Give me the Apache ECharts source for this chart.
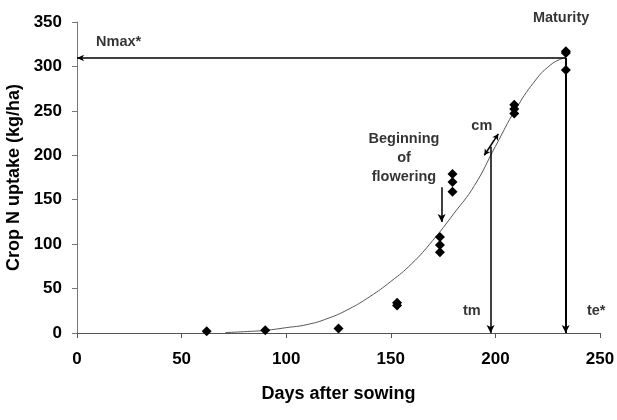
<!DOCTYPE html>
<html lang="en">
<head>
    <meta charset="UTF-8">
    <title>Crop N uptake</title>
    <script src="https://cdn.jsdelivr.net/npm/echarts@6.0.0/dist/echarts.min.js"></script>
    <style>
        body { margin: 0; background: #fff; }
        #chart { width: 617px; height: 420px; }
    </style>
</head>
<body>
    <div id="chart"></div>
    <script>
        // observed crop N uptake (diamonds)
        const obsDays = [62, 90, 125, 153, 153, 173.5, 173.5, 173.5, 179.5, 179.5, 179.5, 209, 209, 209, 233.7, 233.7, 233.7];
        const obsUptake = [2, 3, 5, 31, 34, 91, 99, 108, 159, 170, 179, 247, 252, 257, 296, 315, 317];

        // fitted curve
        const fitDays = [71, 80, 90, 100, 110, 120, 130, 140, 150, 160, 170, 180, 190, 200, 210, 220, 226, 230, 233.6];
        const fitUptake = [0.5, 1.5, 3, 6, 9.5, 16.5, 27, 41, 58, 78, 104, 134, 166, 210, 253, 287, 301, 307, 310];

        // annotation values
        const nmax = 309.5;       // Nmax*
        const teDay = 233.6;      // te*
        const tmDay = 197.7;      // tm
        const tmTop = 209.6;
        const flowerArrow = [[174.3, 164], [174.3, 125]];
        const cmArrow = [[194.7, 200], [201.4, 224]];

        // text annotations (day, uptake, text)
        const noteText = ['Nmax*', 'Maturity', 'Beginning\nof\nflowering', 'cm', 'tm', 'te*'];
        const noteDay = [19.9, 231.4, 156.3, 193.5, 188.7, 248.2];
        const noteUptake = [327.5, 354.6, 197.4, 233, 24.6, 24.6];

        const xTicks = [0, 50, 100, 150, 200, 250];
        const yTicks = [0, 50, 100, 150, 200, 250, 300, 350];

        const chart = echarts.init(document.getElementById('chart'));

        const fontFamily = 'Liberation Sans, Arial, sans-serif';
        const tickFont = { color: '#000', fontWeight: 'bold', fontSize: 17, fontFamily: fontFamily };
        const nameFont = { color: '#000', fontWeight: 'bold', fontSize: 18, fontFamily: fontFamily };
        const arrowStyle = { color: '#000', width: 1.5, type: 'solid' };

        const option = {
            animation: false,
            backgroundColor: '#fff',
            grid: { left: 77, right: 17, top: 22, bottom: 87, containLabel: false, outerBoundsMode: 'none' },
            xAxis: {
                type: 'value',
                min: xTicks[0], max: xTicks[xTicks.length - 1], interval: 50,
                name: 'Days after sowing',
                nameLocation: 'middle',
                nameGap: 52,
                nameTextStyle: nameFont,
                axisLine: { lineStyle: { color: '#555', width: 1 } },
                axisTick: { show: true, length: 5, lineStyle: { color: '#555' } },
                axisLabel: Object.assign({ margin: 18 }, tickFont),
                splitLine: { show: false }
            },
            yAxis: {
                type: 'value',
                min: yTicks[0], max: yTicks[yTicks.length - 1], interval: 50,
                name: 'Crop N uptake (kg/ha)',
                nameLocation: 'middle',
                nameGap: 54,
                nameTextStyle: nameFont,
                axisLine: { show: true, lineStyle: { color: '#777', width: 1 } },
                axisTick: { show: true, length: 5, lineStyle: { color: '#777' } },
                axisLabel: Object.assign({ margin: 15 }, tickFont),
                splitLine: { show: false }
            },
            series: [
                {
                    name: 'fit',
                    type: 'line',
                    smooth: true,
                    symbol: 'none',
                    data: fitDays.map((d, i) => [d, fitUptake[i]]),
                    lineStyle: { color: '#555', width: 1 },
                    z: 2,
                    markLine: {
                        silent: true,
                        animation: false,
                        label: { show: false },
                        symbolSize: [7, 9],
                        data: [
                            [{ coord: [teDay, nmax], symbol: 'none' }, { coord: [0, nmax], symbol: 'arrow', symbolSize: [5, 7] }],
                            [{ coord: [teDay, nmax], symbol: 'none', lineStyle: { color: '#000', width: 2 } }, { coord: [teDay, 0], symbol: 'arrow', symbolSize: [6, 8] }],
                            [{ coord: [tmDay, tmTop], symbol: 'none' }, { coord: [tmDay, 0], symbol: 'arrow', symbolSize: [6, 8] }],
                            [{ coord: flowerArrow[0], symbol: 'none' }, { coord: flowerArrow[1], symbol: 'arrow', symbolSize: [6, 8] }],
                            [{ coord: cmArrow[0], symbol: 'arrow', symbolSize: [5, 6] }, { coord: cmArrow[1], symbol: 'arrow', symbolSize: [5, 6] }]
                        ],
                        lineStyle: arrowStyle
                    }
                },
                {
                    name: 'observed',
                    type: 'scatter',
                    symbol: 'diamond',
                    symbolSize: [10, 10],
                    data: obsDays.map((d, i) => [d, obsUptake[i]]),
                    itemStyle: { color: '#000', opacity: 1 },
                    clip: false,
                    z: 3
                },
                {
                    name: 'notes',
                    type: 'scatter',
                    symbolSize: 0,
                    silent: true,
                    clip: false,
                    data: noteDay.map((d, i) => ({ value: [d, noteUptake[i]], name: noteText[i] })),
                    label: {
                        show: true,
                        position: 'inside',
                        formatter: p => p.name,
                        color: '#000',
                        fontWeight: 'bold',
                        fontSize: 14.5,
                        lineHeight: 19,
                        align: 'center',
                        fontFamily: fontFamily
                    },
                    z: 4
                }
            ]
        };

        chart.setOption(option);
    </script>
</body>
</html>
